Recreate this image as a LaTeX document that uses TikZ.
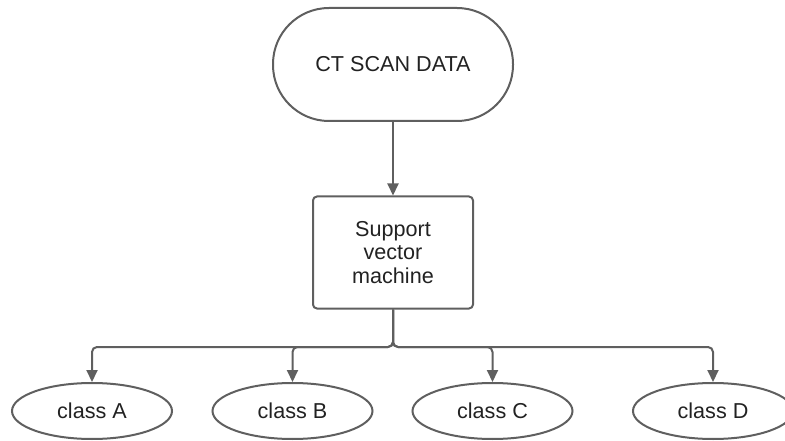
\documentclass[tikz,border=0pt]{standalone}
\usepackage{fontspec}
\setmainfont{Liberation Sans}
\usetikzlibrary{shapes.geometric,arrows.meta}
\definecolor{lc}{HTML}{5F5F5F}
\definecolor{tc}{HTML}{222222}
\tikzset{
  base/.style={draw=lc, line width=2pt, text=tc, font=\fontsize{21.6}{23.5}\selectfont, inner sep=0pt, align=center},
  stadium/.style={base, rectangle, rounded corners=56pt, minimum width=240pt, minimum height=113pt},
  procbox/.style={base, rectangle, rounded corners=4pt, minimum width=160pt, minimum height=112pt},
  classnode/.style={base, ellipse, minimum width=160pt, minimum height=56pt},
  conn/.style={draw=lc, line width=2pt, -{Triangle[length=12pt,width=11pt]}},
}
\begin{document}
\begin{tikzpicture}[x=1pt,y=-1pt]
\useasboundingbox (0,0) rectangle (785,441);
\node[stadium] (ct) at (393,64.5) {CT SCAN DATA};
\node[procbox] (svm) at (393,252.5) {Support\\vector\\machine};
\node[classnode] (cA) at (92,411) {class A};
\node[classnode] (cB) at (292.5,411) {class B};
\node[classnode] (cC) at (492.5,411) {class C};
\node[classnode] (cD) at (713,411) {class D};
\coordinate (bus) at (393,347);
\draw[conn] (ct) -- (svm);
\foreach \c in {cA,cB,cC,cD}{
  \draw[conn, rounded corners=5pt] (svm.south) -- (bus) -| (\c.north);
}
\end{tikzpicture}
\end{document}
